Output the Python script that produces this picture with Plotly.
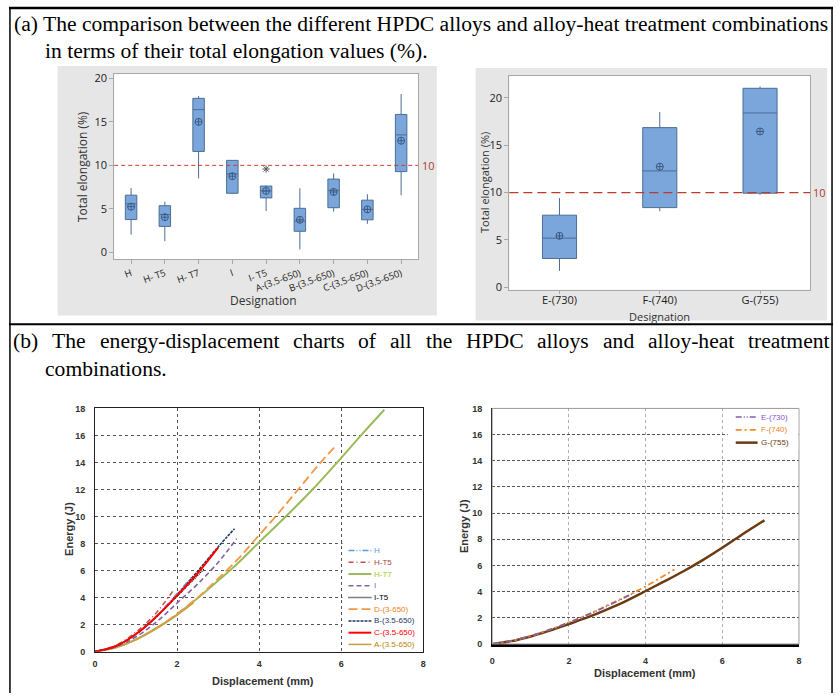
import plotly.graph_objects as go

W, H = 839, 698
def fx(x): return x / W
def fy(y): return 1 - y / H

# ---------------- data: (a) left box plot ----------------
cat_left = ["H", "H- T5", "H- T7", "I", "I- T5", "A-(3.5-650)", "B-(3.5-650)", "C-(3.5-650)", "D-(3.5-650)"]
left_q1 = [3.77, 2.98, 11.6, 6.79, 6.26, 2.42, 5.13, 3.74, 9.28]
left_median = [5.58, 4.34, 16.4, 9.02, 7.06, 3.58, 7.13, 4.94, 13.5]
left_q3 = [6.57, 5.36, 17.7, 10.57, 7.62, 5.06, 8.42, 6.0, 15.85]
left_low = [2.04, 1.28, 8.5, 6.7, 4.75, 0.34, 4.68, 3.28, 6.57]
left_high = [7.4, 5.81, 17.96, 10.6, 7.7, 7.36, 9.06, 6.68, 18.2]
left_mean = [5.25, 4.04, 15.0, 8.75, 7.06, 3.74, 6.94, 4.94, 12.83]
outlier_cat = ["I- T5"]
outlier_val = [9.58]

# ---------------- data: (a) right box plot ----------------
cat_right = ["E-(730)", "F-(740)", "G-(755)"]
right_q1 = [3.04, 8.41, 9.93]
right_median = [5.19, 12.28, 18.4]
right_q3 = [7.61, 16.85, 21.0]
right_low = [1.73, 8.03, 9.76]
right_high = [9.41, 18.5, 21.2]
right_mean = [5.43, 12.73, 16.44]
ref_value = 10

# ---------------- data: (b) energy-displacement ----------------
ht7_x = [0, 0.5, 1, 1.5, 2, 2.5, 3, 3.5, 3.97, 4.65, 5.3, 5.9, 6.45, 7.05]
ht7_y = [0, 0.3, 0.9, 1.75, 2.75, 3.95, 5.25, 6.6, 8.0, 10.0, 12.0, 14.0, 15.9, 17.9]
d_x = [0, 0.5, 1, 1.5, 2, 2.5, 3, 3.5, 3.82, 4.4, 4.95, 5.47, 5.9]
d_y = [0, 0.3, 0.9, 1.75, 2.8, 4.0, 5.4, 6.9, 8.0, 10.0, 12.0, 13.9, 15.35]
a_x = [0, 0.5, 1, 1.5, 2, 2.4]
a_y = [0, 0.3, 0.88, 1.7, 2.7, 3.6]
i_x = [0, 0.5, 1, 1.5, 2, 2.5, 3, 3.45]
i_y = [0, 0.35, 1.1, 2.2, 3.6, 5.0, 6.6, 8.35]
b_x = [0, 0.5, 1, 1.5, 2, 2.5, 3, 3.4]
b_y = [0, 0.4, 1.3, 2.6, 4.2, 5.95, 7.75, 9.1]
it5_x = [0, 0.5, 1, 1.5, 2, 2.65]
it5_y = [0, 0.4, 1.3, 2.6, 4.1, 6.1]
h_x = [0, 0.5, 1, 1.5, 2, 2.35]
h_y = [0, 0.4, 1.3, 2.65, 4.3, 5.5]
ht5_x = [0, 0.5, 1, 1.5, 1.9]
ht5_y = [0, 0.45, 1.45, 2.9, 4.5]
c_x = [0, 0.5, 1, 1.5, 2, 2.5, 3.0]
c_y = [0, 0.4, 1.3, 2.6, 4.15, 5.8, 7.7]

g_x = [0, 0.5, 1, 1.5, 2, 2.5, 3, 3.5, 4, 4.5, 5, 5.5, 6, 6.5, 7.1]
g_y = [0, 0.22, 0.58, 1.02, 1.53, 2.05, 2.65, 3.3, 4.05, 4.8, 5.58, 6.43, 7.35, 8.33, 9.45]
f_x = [0, 0.5, 1, 1.5, 2, 2.5, 3, 3.5, 4, 4.75]
f_y = [0, 0.24, 0.62, 1.1, 1.65, 2.25, 2.95, 3.65, 4.4, 5.7]
e_x = [0, 0.5, 1, 1.5, 2, 2.5, 3, 3.7]
e_y = [0, 0.25, 0.63, 1.1, 1.65, 2.25, 2.9, 3.9]

fig = go.Figure()

BOX_FILL = "#7BA6DB"
BOX_LINE = "#4C6D96"
MEAN_C = "#3A5A84"

# ---- left box plot
fig.add_trace(go.Box(x=cat_left, q1=left_q1, median=left_median, q3=left_q3,
                     lowerfence=left_low, upperfence=left_high,
                     fillcolor=BOX_FILL, line=dict(color=BOX_LINE, width=1),
                     width=0.34, whiskerwidth=0, boxpoints=False,
                     xaxis="x", yaxis="y", showlegend=False, hoverinfo="skip"))
fig.add_trace(go.Scatter(x=cat_left, y=left_mean, mode="markers",
                         marker=dict(symbol="circle-cross-open", size=7, color=MEAN_C, line=dict(width=1)),
                         xaxis="x", yaxis="y", showlegend=False))
fig.add_trace(go.Scatter(x=outlier_cat, y=outlier_val, mode="markers",
                         marker=dict(symbol="asterisk-open", size=6, color="#555", line=dict(width=1)),
                         xaxis="x", yaxis="y", showlegend=False))

# ---- right box plot
fig.add_trace(go.Box(x=cat_right, q1=right_q1, median=right_median, q3=right_q3,
                     lowerfence=right_low, upperfence=right_high,
                     fillcolor=BOX_FILL, line=dict(color=BOX_LINE, width=1),
                     width=0.34, whiskerwidth=0, boxpoints=False,
                     xaxis="x2", yaxis="y2", showlegend=False, hoverinfo="skip"))
fig.add_trace(go.Scatter(x=cat_right, y=right_mean, mode="markers",
                         marker=dict(symbol="circle-cross-open", size=7, color=MEAN_C, line=dict(width=1)),
                         xaxis="x2", yaxis="y2", showlegend=False))

# ---- bottom-left curves
left_series = [
    ("H", h_x, h_y, "#5B9BD5", "6px,2px,1px,2px,1px,2px", 1.5, "#4F9BE0"),
    ("H-T5", ht5_x, ht5_y, "#C0504D", "5px,3px,1px,3px", 1.5, "#A8423F"),
    ("H-T7", ht7_x, ht7_y, "#9BBB59", "solid", 2, "#9CCB2A"),
    ("I", i_x, i_y, "#8064A2", "5px,3px", 1.6, "#7A5CB0"),
    ("I-T5", it5_x, it5_y, "#000000", "1px,1px", 1.4, "#000000"),
    ("D-(3-650)", d_x, d_y, "#F79646", "9px,4px", 1.8, "#F07F22"),
    ("B-(3.5-650)", b_x, b_y, "#1F3864", "3px,1px", 1.6, "#1F3864"),
    ("C-(3.5-650)", c_x, c_y, "#FF0000", "solid", 2, "#FF0000"),
    ("A-(3.5-650)", a_x, a_y, "#C9A04A", "solid", 1.6, "#B8860B"),
]
draw_order = [2, 5, 8, 3, 6, 4, 0, 1, 7]
for k in draw_order:
    name, xs, ys, col, dash, wd, tc = left_series[k]
    fig.add_trace(go.Scatter(x=xs, y=ys, mode="lines", line=dict(color=col, dash=dash, width=wd, shape="spline"),
                             xaxis="x3", yaxis="y3", showlegend=False, name=name))

right_series = [
    ("E-(730)", e_x, e_y, "#7F60A8", "6px,2px,1px,2px,1px,2px", 1.6, "#8A4FC8"),
    ("F-(740)", f_x, f_y, "#F28C28", "6px,3px,2px,3px", 1.8, "#F07F22"),
    ("G-(755)", g_x, g_y, "#6B3A10", "solid", 2.5, "#6B3A10"),
]
for k in [2, 1, 0]:
    name, xs, ys, col, dash, wd, tc = right_series[k]
    fig.add_trace(go.Scatter(x=xs, y=ys, mode="lines", line=dict(color=col, dash=dash, width=wd, shape="spline"),
                             xaxis="x4", yaxis="y4", showlegend=False, name=name))

shapes = []
annotations = []

# gray panels + white plot backgrounds
shapes.append(dict(type="rect", xref="paper", yref="paper", x0=fx(55), x1=fx(437), y0=fy(315), y1=fy(62),
                   fillcolor="#E6E6E6", line=dict(width=0), layer="below"))
shapes.append(dict(type="rect", xref="paper", yref="paper", x0=fx(476), x1=fx(830), y0=fy(320), y1=fy(64),
                   fillcolor="#E6E6E6", line=dict(width=0), layer="below"))
shapes.append(dict(type="rect", xref="paper", yref="paper", x0=fx(112), x1=fx(418), y0=fy(258), y1=fy(70),
                   fillcolor="white", line=dict(width=0), layer="below"))
shapes.append(dict(type="rect", xref="paper", yref="paper", x0=fx(510), x1=fx(813), y0=fy(289), y1=fy(72),
                   fillcolor="white", line=dict(width=0), layer="below"))

# reference lines
shapes.append(dict(type="line", xref="x domain", yref="y", x0=0, x1=1, y0=ref_value, y1=ref_value,
                   line=dict(color="#D03A2E", width=1, dash="4px,3px"), layer="above"))
shapes.append(dict(type="line", xref="x2 domain", yref="y2", x0=0, x1=1, y0=ref_value, y1=ref_value,
                   line=dict(color="#C0392B", width=1.2, dash="9px,5px"), layer="above"))
annotations.append(dict(text=str(ref_value), xref="paper", yref="y", x=fx(420), y=ref_value, xanchor="left",
                        yanchor="middle", showarrow=False, font=dict(family="Open Sans", size=11, color="#B03A2E")))
annotations.append(dict(text=str(ref_value), xref="paper", yref="y2", x=fx(814), y=ref_value, xanchor="left",
                        yanchor="middle", showarrow=False, font=dict(family="Open Sans", size=11, color="#B03A2E")))

# table lines
shapes.append(dict(type="line", xref="paper", yref="paper", x0=fx(6), x1=fx(836), y0=fy(3), y1=fy(3),
                   line=dict(color="black", width=2.5)))
shapes.append(dict(type="line", xref="paper", yref="paper", x0=fx(6), x1=fx(836), y0=fy(324), y1=fy(324),
                   line=dict(color="black", width=2)))
shapes.append(dict(type="line", xref="paper", yref="paper", x0=fx(7), x1=fx(7), y0=fy(3), y1=fy(698),
                   line=dict(color="black", width=1.5)))
shapes.append(dict(type="line", xref="paper", yref="paper", x0=fx(835), x1=fx(835), y0=fy(3), y1=fy(698),
                   line=dict(color="black", width=1.5)))

# frame of bottom-right chart (gray top/right)
shapes.append(dict(type="rect", xref="paper", yref="paper", x0=fx(492.7), x1=fx(801.7), y0=fy(648.3),
                   y1=fy(409.3), line=dict(color="#9A9A9A", width=1), layer="above"))

# legends (white boxes) for bottom charts
shapes.append(dict(type="rect", xref="paper", yref="paper", x0=fx(342), x1=fx(422), y0=fy(655), y1=fy(545),
                   fillcolor="white", line=dict(width=0), layer="above"))
shapes.append(dict(type="rect", xref="paper", yref="paper", x0=fx(730), x1=fx(801), y0=fy(452), y1=fy(410),
                   fillcolor="white", line=dict(width=0), layer="above"))

leg_y0, leg_dy = 553.5, 11.9
for i, (name, xs, ys, col, dash, wd, tc) in enumerate(left_series):
    yy = leg_y0 + i * leg_dy
    shapes.append(dict(type="line", xref="paper", yref="paper", x0=fx(348), x1=fx(371), y0=fy(yy), y1=fy(yy),
                       line=dict(color=col, dash=dash, width=wd), layer="above"))
    annotations.append(dict(text=name, xref="paper", yref="paper", x=fx(372), y=fy(yy), xanchor="left",
                            yanchor="middle", showarrow=False,
                            font=dict(family="Liberation Sans", size=8, color=tc)))
for i, (name, xs, ys, col, dash, wd, tc) in enumerate(right_series):
    yy = 418 + i * 13
    shapes.append(dict(type="line", xref="paper", yref="paper", x0=fx(738), x1=fx(760), y0=fy(yy), y1=fy(yy),
                       line=dict(color=col, dash=dash, width=wd), layer="above"))
    annotations.append(dict(text=name, xref="paper", yref="paper", x=fx(761), y=fy(yy), xanchor="left",
                            yanchor="middle", showarrow=False,
                            font=dict(family="Liberation Sans", size=8, color=tc)))

# axis titles
def title_ann(text, x, y, font, angle=0):
    return dict(text=text, xref="paper", yref="paper", x=fx(x), y=fy(y), xanchor="center", yanchor="middle",
                textangle=angle, showarrow=False, font=font)

MT = dict(family="Open Sans", size=12, color="#333")
MT2 = dict(family="Open Sans", size=11, color="#333")
annotations.append(title_ann("Total elongation (%)", 80, 164, MT, -90))
annotations.append(title_ann("Designation", 262, 300, MT))
annotations.append(title_ann("Total elongation (%)", 485, 180, MT2, -90))
annotations.append(title_ann("Designation", 661, 316, MT2))
BT = dict(family="Liberation Sans", size=11, color="#333", weight="bold")
annotations.append(title_ann("Energy (J)", 67, 532, BT, -90))
annotations.append(title_ann("Displacement (mm)", 262, 686, BT))
annotations.append(title_ann("Energy (J)", 465, 529, BT, -90))
annotations.append(title_ann("Displacement (mm)", 647, 678, BT))

# ---- paragraph texts (Times metrics for justification)
AFM = {" ": 250, "(": 333, ")": 333, "a": 444, "b": 500, "c": 444, "d": 500, "e": 444, "f": 333, "g": 500,
       "h": 500, "i": 278, "l": 278, "m": 778, "n": 500, "o": 500, "p": 500, "r": 333, "s": 389, "t": 278,
       "w": 722, "y": 500, "-": 333, "H": 722, "P": 556, "D": 722, "C": 667, "T": 611, ".": 250, "%": 833}
def tw(s, size):
    return sum(AFM.get(ch, 500) for ch in s) / 1000.0 * size

FS = 21.6
SERIF = dict(family="Liberation Serif", size=FS, color="black")
annotations.append(dict(text="(a) The comparison between the different HPDC alloys and alloy-heat treatment combinations",
                        xref="paper", yref="paper", x=fx(9), y=fy(19), xanchor="left", yanchor="middle",
                        showarrow=False, font=SERIF))
annotations.append(dict(text="in terms of their total elongation values (%).",
                        xref="paper", yref="paper", x=fx(40), y=fy(47), xanchor="left", yanchor="middle",
                        showarrow=False, font=SERIF))
words = "(b) The energy-displacement charts of all the HPDC alloys and alloy-heat treatment".split(" ")
left_edge, right_edge = 9, 831
total = sum(tw(w_, FS) for w_ in words)
gap = (right_edge - left_edge - total) / (len(words) - 1)
xc = left_edge
for w_ in words:
    annotations.append(dict(text=w_, xref="paper", yref="paper", x=fx(xc), y=fy(341), xanchor="left",
                            yanchor="middle", showarrow=False, font=SERIF, borderpad=0))
    xc += tw(w_, FS) + gap
annotations.append(dict(text="combinations.", xref="paper", yref="paper", x=fx(40), y=fy(369),
                        xanchor="left", yanchor="middle", showarrow=False, font=SERIF))

TICKM = dict(family="Open Sans", size=11, color="#222")
TICKB = dict(family="Liberation Sans", size=9, color="#333", weight="bold")

fig.update_layout(
    width=W, height=H, margin=dict(l=0, r=0, t=0, b=0),
    paper_bgcolor="white", plot_bgcolor="white", showlegend=False,
    shapes=shapes, annotations=annotations,
    xaxis=dict(domain=[fx(112), fx(418)], anchor="y", type="category", categoryorder="array",
               categoryarray=cat_left, range=[-0.5, 8.5], tickangle=-20, showline=True, mirror=True,
               linecolor="#A8A8A8", linewidth=1, ticks="outside", ticklen=4, tickcolor="#A8A8A8",
               showgrid=False, zeroline=False, tickfont=dict(family="Open Sans", size=9.5, color="#222")),
    yaxis=dict(domain=[fy(258), fy(70)], anchor="x", range=[-0.8, 20.5], tickvals=[0, 5, 10, 15, 20],
               showline=True, mirror=True, linecolor="#A8A8A8", linewidth=1, ticks="outside", ticklen=4,
               tickcolor="#A8A8A8", showgrid=False, zeroline=False, tickfont=TICKM),
    xaxis2=dict(domain=[fx(510), fx(813)], anchor="y2", type="category", categoryorder="array",
                categoryarray=cat_right, range=[-0.5, 2.5], showline=True, mirror=True,
                linecolor="#A8A8A8", linewidth=1, ticks="outside", ticklen=3, tickcolor="#A8A8A8",
                showgrid=False, zeroline=False, ticklabelstandoff=-3,
                tickfont=dict(family="Open Sans", size=11, color="#222")),
    yaxis2=dict(domain=[fy(289), fy(72)], anchor="x2", range=[-0.27, 22.3], tickvals=[0, 5, 10, 15, 20],
                showline=True, mirror=True, linecolor="#A8A8A8", linewidth=1, ticks="outside", ticklen=4,
                tickcolor="#A8A8A8", showgrid=False, zeroline=False, tickfont=TICKM),
    xaxis3=dict(domain=[fx(92.7), fx(423.3)], anchor="y3", range=[0, 8], dtick=2, showline=True, mirror=True,
                linecolor="#222", linewidth=1, showgrid=True, gridcolor="#555", griddash="dot", gridwidth=1,
                zeroline=False, ticks="", tickfont=TICKB, ticklabelstandoff=4),
    yaxis3=dict(domain=[fy(656), fy(409.3)], anchor="x3", range=[0, 18], dtick=2, showline=True, mirror=True,
                linecolor="#222", linewidth=1, showgrid=True, gridcolor="#555", griddash="dot", gridwidth=1,
                zeroline=False, ticks="", tickfont=TICKB, ticklabelstandoff=7),
    xaxis4=dict(domain=[fx(492.7), fx(801.7)], anchor="y4", range=[0, 8], dtick=2, showline=True,
                linecolor="black", linewidth=3, showgrid=True, gridcolor="#B0B0B0", griddash="dot",
                gridwidth=1, zeroline=False, ticks="", tickfont=TICKB, ticklabelstandoff=6),
    yaxis4=dict(domain=[fy(648.3), fy(409.3)], anchor="x4", range=[0, 18], dtick=2, showline=True,
                linecolor="black", linewidth=1.2, showgrid=True, gridcolor="#555", griddash="3px,2px",
                gridwidth=1, zeroline=False, ticks="", tickfont=TICKB, ticklabelstandoff=7),
)

fig.write_html("out.html")
